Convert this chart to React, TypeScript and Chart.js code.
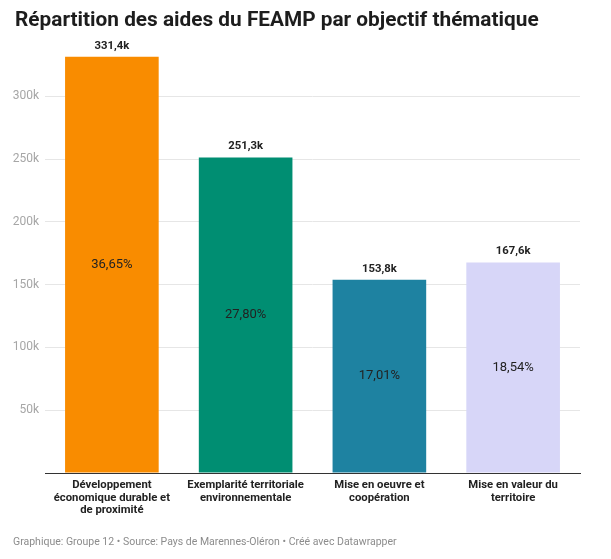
import React, { useEffect, useRef } from 'react';
import Chart from 'chart.js/auto';

// Data
const categories: string[][] = [
  ['Développement', 'économique durable et', 'de proximité'],
  ['Exemplarité territoriale', 'environnementale'],
  ['Mise en oeuvre et', 'coopération'],
  ['Mise en valeur du', 'territoire'],
];
const amounts: number[] = [331400, 251300, 153800, 167600];
const shares: string[] = ['36,65%', '27,80%', '17,01%', '18,54%'];
const barColors: string[] = ['#f98c00', '#008e72', '#1e82a1', '#d7d6f8'];
const yTicks: number[] = [0, 50000, 100000, 150000, 200000, 250000, 300000];

const title = 'Répartition des aides du FEAMP par objectif thématique';
const footer = 'Graphique: Groupe 12 • Source: Pays de Marennes-Oléron • Créé avec Datawrapper';

const FONT = 'Roboto, "Noto Sans", sans-serif';

const fmtK = (v: number) => (v / 1000).toFixed(1).replace('.', ',') + 'k';

// Draws the title, footer and the labels on/above the bars
const labelsPlugin = {
  id: 'dwLabels',
  afterDatasetsDraw(chart: any) {
    const { ctx } = chart;
    const meta = chart.getDatasetMeta(0);
    ctx.save();
    ctx.textAlign = 'center';
    ctx.textBaseline = 'middle';
    meta.data.forEach((bar: any, i: number) => {
      ctx.fillStyle = '#222222';
      ctx.font = `bold 11.3px ${FONT}`;
      ctx.fillText(fmtK(amounts[i]), bar.x, bar.y - 11);
      ctx.font = `13px ${FONT}`;
      ctx.fillText(shares[i], bar.x, (bar.y + bar.base) / 2);
    });
    ctx.restore();
  },
  afterDraw(chart: any) {
    const { ctx } = chart;
    ctx.save();
    ctx.textAlign = 'left';
    ctx.textBaseline = 'alphabetic';
    ctx.fillStyle = '#1d1d1d';
    ctx.font = `bold 20.8px ${FONT}`;
    ctx.fillText(title, 15, 26);
    ctx.textBaseline = 'middle';
    ctx.fillStyle = '#8c8c8c';
    ctx.font = `10.5px ${FONT}`;
    ctx.fillText(footer, 13, 542);
    ctx.restore();
  },
};

const App: React.FC = () => {
  const canvasRef = useRef<HTMLCanvasElement>(null);

  useEffect(() => {
    document.body.style.margin = '0';
    if (!canvasRef.current) return;
    const chart = new Chart(canvasRef.current, {
      type: 'bar',
      data: {
        labels: categories,
        datasets: [
          {
            data: amounts,
            backgroundColor: barColors,
            categoryPercentage: 0.7,
            barPercentage: 1,
            borderWidth: 0,
          },
        ],
      },
      options: {
        animation: false,
        responsive: true,
        maintainAspectRatio: false,
        layout: { padding: { top: 46, right: 31, bottom: 0, left: 0 } },
        plugins: {
          legend: { display: false },
          tooltip: { enabled: false },
        },
        scales: {
          x: {
            grid: { display: false, drawTicks: false },
            border: { color: '#333333', width: 1 },
            ticks: {
              color: '#222222',
              font: { family: FONT, size: 11.3, weight: 'bold', lineHeight: 1.12 },
              padding: 6,
              maxRotation: 0,
              autoSkip: false,
            },
            afterFit: (scale: any) => {
              scale.height = 86;
            },
          },
          y: {
            min: 0,
            max: 340000,
            afterBuildTicks: (scale: any) => {
              scale.ticks = yTicks.map((v) => ({ value: v }));
            },
            grid: {
              color: (c: any) => (c.tick && c.tick.value === 0 ? 'rgba(0,0,0,0)' : '#e6e6e6'),
              drawTicks: false,
            },
            border: { display: false },
            ticks: {
              color: '#a6a6a6',
              font: { family: FONT, size: 12 },
              padding: 6,
              callback: (v: any) => (Number(v) === 0 ? '' : Number(v) / 1000 + 'k'),
            },
            afterFit: (scale: any) => {
              scale.width = 45;
            },
          },
        },
      },
      plugins: [labelsPlugin],
    });
    return () => chart.destroy();
  }, []);

  return (
    <div style={{ width: 611, height: 559, position: 'relative', background: '#ffffff' }}>
      <canvas ref={canvasRef}></canvas>
    </div>
  );
};

export default App;
